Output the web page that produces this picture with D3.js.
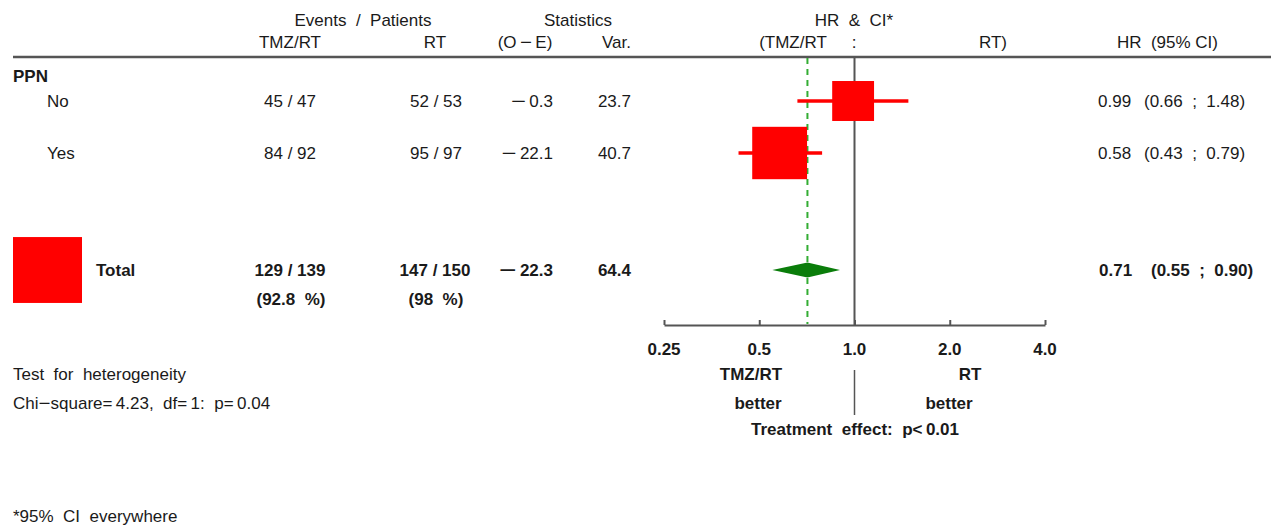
<!DOCTYPE html>
<html>
<head>
<meta charset="utf-8">
<script src="https://cdn.jsdelivr.net/npm/d3@7"></script>
<style>
  html, body { margin: 0; padding: 0; background: #fff; }
  svg { display: block; }
  text { font-family: "Liberation Sans", Arial, Helvetica, sans-serif; fill: #1a1a1a; }
</style>
</head>
<body>
<svg id="chart" width="1271" height="529"></svg>
<script>
// ---- Subgroup data (PPN) ----
const groupTitle = "PPN";
const subgroups = ["No", "Yes"];
const eventsTMZ = [45, 84];
const patientsTMZ = [47, 92];
const eventsRT = [52, 95];
const patientsRT = [53, 97];
const oMinusE = [-0.3, -22.1];
const variance = [23.7, 40.7];
const hr = [0.99, 0.58];
const ciLow = [0.66, 0.43];
const ciHigh = [1.48, 0.79];

// ---- Overall ----
const totalEventsTMZ = 129, totalPatientsTMZ = 139;
const totalEventsRT = 147, totalPatientsRT = 150;
const totalPctTMZ = "92.8", totalPctRT = "98";
const totalOE = -22.3, totalVar = 64.4;
const totalHR = 0.71, totalLow = 0.55, totalHigh = 0.90;

// ---- Axis ----
const tickValues = [0.25, 0.5, 1, 2, 4];
const tickLabels = ["0.25", "0.5", "1.0", "2.0", "4.0"];

const heteroTitle = "Test  for  heterogeneity";
const heteroText = ["Chi", "\u2212", "square=\u20094.23,  df=\u20091:  p=\u20090.04"];
const effectText = "Treatment  effect:  p<\u20090.01";
const footnote = "*95%  CI  everywhere";

const svg = d3.select("#chart");
const FS = 17;
const rule = "#555";
const red = "#ff0000", darkGreen = "#0a7d0a", dashGreen = "#33ad33";

const x = d3.scaleLog().base(2).domain([0.25, 4]).range([664, 1045]);
const rowY = d3.scaleOrdinal().domain(["No", "Yes", "Total"]).range([101, 153, 270]);
const boxW = d3.scaleSqrt().domain([0, totalVar]).range([0, 69]);

const fmt2 = v => v.toFixed(2);
const slash = (a, b) => `${a} / ${b}`;

function txt(g, s, tx, ty, anchor = "start", bold = false) {
  return g.append("text").attr("x", tx).attr("y", ty)
    .attr("text-anchor", anchor)
    .attr("font-size", FS)
    .attr("font-weight", bold ? "bold" : "normal")
    .style("white-space", "pre")
    .text(s);
}

// Text made of pieces; pieces equal to the minus sign are drawn as a long dash
function txtParts(g, parts, tx, ty, anchor = "start", bold = false, dashLen = 15) {
  const t = g.append("text").attr("x", tx).attr("y", ty)
    .attr("text-anchor", anchor)
    .attr("font-size", FS)
    .attr("font-weight", bold ? "bold" : "normal")
    .style("white-space", "pre");
  parts.forEach(p => {
    const sp = t.append("tspan").text(p);
    if (p === "\u2212") sp.attr("textLength", dashLen).attr("lengthAdjust", "spacingAndGlyphs");
  });
  return t;
}

// signed number -> pieces with a separate minus sign
const signed = v => v < 0 ? ["\u2212", "\u2009" + Math.abs(v).toFixed(1)] : [v.toFixed(1)];

const T = svg.append("g");

// Column headers
txt(T, "Events  /  Patients", 363, 26, "middle");
txt(T, "Statistics", 578, 26, "middle");
txt(T, "HR  &  CI*", 854, 26, "middle");
txt(T, "TMZ/RT", 290, 48, "middle");
txt(T, "RT", 435, 48, "middle");
txtParts(T, ["(O\u2009", "\u2212", "\u2009E)"], 525, 48, "middle", false, 12);
txt(T, "Var.", 631, 48, "end");
txt(T, "(TMZ/RT", 793, 48, "middle");
txt(T, ":", 854, 48, "middle");
txt(T, "RT)", 993, 48, "middle");
txt(T, "HR  (95% CI)", 1218, 48, "end");

// Header rule
svg.append("line").attr("x1", 13).attr("x2", 1271).attr("y1", 57).attr("y2", 57)
  .attr("stroke", rule).attr("stroke-width", 2.4);

// Group title
txt(T, groupTitle, 13, 82, "start", true);

const baseOff = 6;

// Subgroup rows
subgroups.forEach((s, i) => {
  const y = rowY(s) + baseOff;
  txt(T, s, 47, y);
  txt(T, slash(eventsTMZ[i], patientsTMZ[i]), 290, y, "middle");
  txt(T, slash(eventsRT[i], patientsRT[i]), 436, y, "middle");
  txtParts(T, signed(oMinusE[i]), 553, y, "end");
  txt(T, variance[i].toFixed(1), 631, y, "end");
  txt(T, fmt2(hr[i]), 1098, y);
  txt(T, `(${fmt2(ciLow[i])}  ;  ${fmt2(ciHigh[i])})`, 1144, y);
});

// Total row
{
  const y = rowY("Total") + baseOff;
  txt(T, "Total", 96, y, "start", true);
  txt(T, slash(totalEventsTMZ, totalPatientsTMZ), 290, y, "middle", true);
  txt(T, slash(totalEventsRT, totalPatientsRT), 435, y, "middle", true);
  txtParts(T, signed(totalOE), 553, y, "end", true, 17);
  txt(T, totalVar.toFixed(1), 631, y, "end", true);
  txt(T, fmt2(totalHR), 1099, y, "start", true);
  txt(T, `(${fmt2(totalLow)}  ;  ${fmt2(totalHigh)})`, 1151, y, "start", true);
  txt(T, `(${totalPctTMZ}  %)`, 291, y + 29, "middle", true);
  txt(T, `(${totalPctRT}  %)`, 436, y + 29, "middle", true);
}

// Reference line at HR = 1
svg.append("line").attr("x1", x(1)).attr("x2", x(1)).attr("y1", 57).attr("y2", 325)
  .attr("stroke", rule).attr("stroke-width", 2);

// Overall HR dashed line
svg.append("line").attr("x1", x(totalHR)).attr("x2", x(totalHR)).attr("y1", 58).attr("y2", 324)
  .attr("stroke", dashGreen).attr("stroke-width", 2).attr("stroke-dasharray", "6,5");

// Subgroup CIs and boxes
const marks = svg.append("g");
subgroups.forEach((s, i) => {
  const cy = rowY(s);
  marks.append("line").attr("x1", x(ciLow[i])).attr("x2", x(ciHigh[i]))
    .attr("y1", cy).attr("y2", cy).attr("stroke", red).attr("stroke-width", 3.5);
  const w = boxW(variance[i]), h = w * 0.955;
  marks.append("rect").attr("x", x(hr[i]) - w / 2).attr("y", cy - h / 2)
    .attr("width", w).attr("height", h).attr("fill", red);
});

// Size key square for total
{
  const w = boxW(totalVar), h = w * 0.955;
  marks.append("rect").attr("x", 13).attr("y", rowY("Total") - h / 2)
    .attr("width", w).attr("height", h).attr("fill", red);
}

// Overall diamond
{
  const cy = rowY("Total"), hh = 7.5;
  const pts = [[x(totalLow), cy], [x(totalHR), cy - hh], [x(totalHigh), cy], [x(totalHR), cy + hh]];
  marks.append("path").attr("d", d3.line()(pts) + "Z").attr("fill", darkGreen);
}

// Axis
const axisG = svg.append("g").attr("transform", "translate(0,325)");
axisG.call(d3.axisTop(x).tickValues(tickValues).tickFormat(() => "").tickSizeInner(5).tickSizeOuter(0));
axisG.select(".domain").attr("stroke", rule).attr("stroke-width", 2);
axisG.selectAll(".tick line").attr("stroke", rule).attr("stroke-width", 2);
svg.append("g").selectAll("text").data(tickValues).join("text")
  .attr("x", d => x(d)).attr("y", 355).attr("text-anchor", "middle")
  .attr("font-size", FS).attr("font-weight", "bold")
  .text((d, i) => tickLabels[i]);

// Favours labels
txt(T, "TMZ/RT", 751, 380, "middle", true);
txt(T, "better", 758, 409, "middle", true);
txt(T, "RT", 970, 380, "middle", true);
txt(T, "better", 949, 409, "middle", true);
svg.append("line").attr("x1", x(1)).attr("x2", x(1)).attr("y1", 370).attr("y2", 415)
  .attr("stroke", rule).attr("stroke-width", 1.5);
txt(T, effectText, 855, 435, "middle", true);

// Heterogeneity and footnote
txt(T, heteroTitle, 13, 380);
txtParts(T, heteroText, 13, 409, "start", false, 12);
txt(T, footnote, 13, 522);
</script>
</body>
</html>
